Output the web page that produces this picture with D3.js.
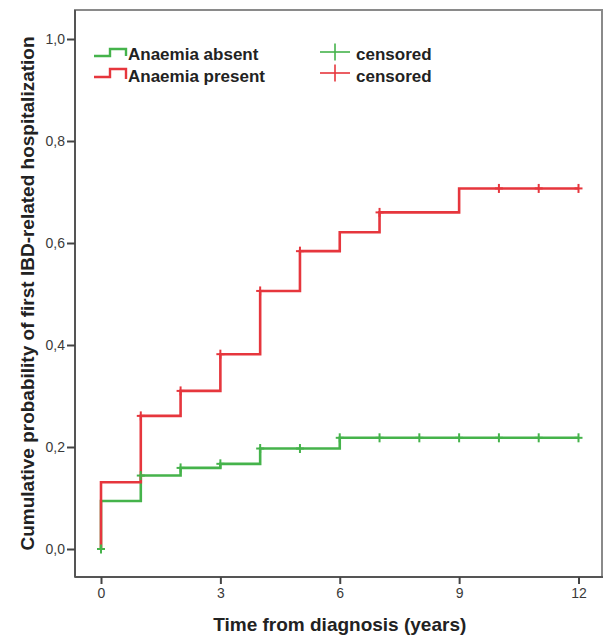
<!DOCTYPE html>
<html><head><meta charset="utf-8">
<script src="https://cdn.jsdelivr.net/npm/d3@7"></script>
<style>
html,body{margin:0;padding:0;background:#fff;}
svg{display:block;font-family:"Liberation Sans",Arial,sans-serif;}
</style></head>
<body>
<svg id="chart" width="603" height="636"></svg>
<script>
// Kaplan-Meier style cumulative curves (step points)
const absentTimes  = [0, 0, 1, 2, 3, 4, 5, 6, 12];
const absentValues = [0, 0.094, 0.144, 0.159, 0.167, 0.197, 0.197, 0.218, 0.218];
const presentTimes  = [0, 0, 1, 2, 3, 4, 5, 6, 7, 9, 12];
const presentValues = [0, 0.131, 0.261, 0.310, 0.382, 0.506, 0.584, 0.621, 0.660, 0.707, 0.707];
// censored marks
const absentCensorTimes  = [0, 1, 2, 3, 4, 5, 6, 7, 8, 9, 10, 11, 12];
const absentCensorValues = [0, 0.144, 0.159, 0.167, 0.197, 0.197, 0.218, 0.218, 0.218, 0.218, 0.218, 0.218, 0.218];
const presentCensorTimes  = [1, 2, 3, 4, 5, 7, 10, 11, 12];
const presentCensorValues = [0.261, 0.310, 0.382, 0.506, 0.584, 0.660, 0.707, 0.707, 0.707];
// ticks
const xTicks = [0, 3, 6, 9, 12];
const yTicks = [0, 0.2, 0.4, 0.6, 0.8, 1.0];
const seriesNames = ["Anaemia absent", "Anaemia present"];
const censorLabel = "censored";
const xTitle = "Time from diagnosis (years)";
const yTitle = "Cumulative probability of first IBD-related hospitalization";

const GREEN = "#45b34b", RED = "#e6363d";
const svg = d3.select("#chart");
const frame = {left: 75, top: 10, right: 602, bottom: 577};
const x = d3.scaleLinear().domain([0, 12]).range([101, 578.5]);
const y = d3.scaleLinear().domain([0, 1]).range([549, 39]);

// frame
svg.append("rect").attr("x", frame.left).attr("y", frame.top)
  .attr("width", frame.right - frame.left).attr("height", frame.bottom - frame.top)
  .attr("fill", "#fff").attr("stroke", "#8a8a8a").attr("stroke-width", 2);
svg.append("line").attr("x1", frame.left).attr("x2", frame.left).attr("y1", frame.top).attr("y2", frame.bottom)
  .attr("stroke", "#555").attr("stroke-width", 2);
svg.append("line").attr("x1", frame.left).attr("x2", 603).attr("y1", frame.bottom).attr("y2", frame.bottom)
  .attr("stroke", "#555").attr("stroke-width", 2);

// axes
const fmt = d => d3.format(".1f")(d).replace(".", ",");
const yAxis = svg.append("g").attr("transform", `translate(${frame.left},0)`)
  .call(d3.axisLeft(y).tickValues(yTicks).tickFormat(fmt).tickSize(8).tickPadding(2));
const xAxis = svg.append("g").attr("transform", `translate(0,${frame.bottom})`)
  .call(d3.axisBottom(x).tickValues(xTicks).tickSize(7).tickPadding(4));
[xAxis, yAxis].forEach(g => {
  g.select(".domain").remove();
  g.selectAll(".tick line").attr("stroke", "#444").attr("stroke-width", 2);
  g.selectAll(".tick text").attr("fill", "#3a3a3a").attr("font-size", 14)
    .attr("font-family", "'Liberation Sans',Arial,sans-serif");
});

// titles
svg.append("text").attr("x", x(6)).attr("y", 631).attr("text-anchor", "middle")
  .attr("font-size", 19).attr("font-weight", "bold").attr("fill", "#222").text(xTitle);
svg.append("text").attr("transform", `translate(34,${(frame.top + frame.bottom) / 2}) rotate(-90)`)
  .attr("text-anchor", "middle").attr("font-size", 19).attr("font-weight", "bold").attr("fill", "#222").text(yTitle);

// curves
const line = d3.line().x(d => x(d[0])).y(d => y(d[1])).curve(d3.curveStepAfter);
const absentPts = absentTimes.map((t, i) => [t, absentValues[i]]);
const presentPts = presentTimes.map((t, i) => [t, presentValues[i]]);
svg.append("path").attr("d", line(absentPts)).attr("fill", "none").attr("stroke", GREEN).attr("stroke-width", 2.6);
svg.append("path").attr("d", line(presentPts)).attr("fill", "none").attr("stroke", RED).attr("stroke-width", 2.6);

function plus(g, cx, cy, hw, hh, color, sw) {
  g.append("line").attr("x1", cx - hw).attr("x2", cx + hw).attr("y1", cy).attr("y2", cy).attr("stroke", color).attr("stroke-width", sw);
  g.append("line").attr("x1", cx).attr("x2", cx).attr("y1", cy - hh).attr("y2", cy + hh).attr("stroke", color).attr("stroke-width", sw);
}
const cg = svg.append("g");
absentCensorTimes.forEach((t, i) => plus(cg, x(t), y(absentCensorValues[i]), 4, 4.5, GREEN, 2));
presentCensorTimes.forEach((t, i) => plus(cg, x(t), y(presentCensorValues[i]), 4, 4.5, RED, 2));

// legend
const lg = svg.append("g");
const legRows = [{name: seriesNames[0], color: GREEN, yl: 56, yh: 49, ye: 56, base: 60, cy: 52},
                 {name: seriesNames[1], color: RED, yl: 77, yh: 69, ye: 79, base: 82, cy: 73}];
legRows.forEach(r => {
  lg.append("path").attr("d", `M94,${r.yl}H110V${r.yh}H126V${r.ye}`).attr("fill", "none")
    .attr("stroke", r.color).attr("stroke-width", 2.4);
  lg.append("text").attr("x", 128).attr("y", r.base).attr("font-size", 17).attr("font-weight", "bold")
    .attr("fill", "#222").text(r.name);
  plus(lg, 335, r.cy, 15, 8.5, r.color, 1.6);
  lg.append("text").attr("x", 356).attr("y", r.base).attr("font-size", 17).attr("font-weight", "bold")
    .attr("fill", "#222").text(censorLabel);
});
</script>
</body></html>
